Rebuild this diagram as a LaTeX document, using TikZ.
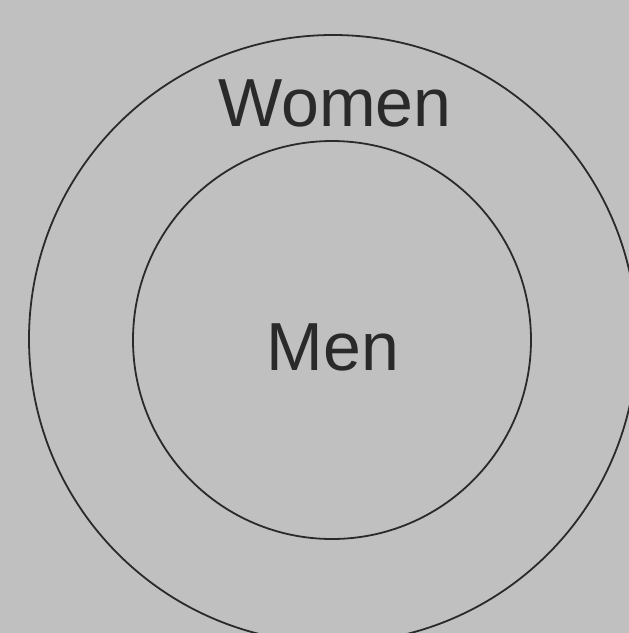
\documentclass[tikz,border=0pt]{standalone}
\usepackage{fontspec}
\setmainfont{Liberation Sans}
\definecolor{bg}{HTML}{C0C0C0}
\definecolor{ink}{HTML}{2A2A2A}
\begin{document}
\begin{tikzpicture}[x=1pt,y=-1pt,
  ring/.style={draw=ink,line width=1.8pt},
  lbl/.style={text=ink,font=\fontsize{68}{80}\selectfont,anchor=base,inner sep=0pt}]
\fill[bg] (0,0) rectangle (629,633);
\useasboundingbox (0,0) rectangle (629,633);
\begin{scope}
\clip (0,0) rectangle (629,633);
\node[ring,circle,minimum size=608pt,inner sep=0pt] (outer) at (333,339) {};
\end{scope}
\node[ring,circle,minimum size=398pt,inner sep=0pt] (inner) at (332,340) {};
\node[lbl] (women) at (335,126) {Women};
\node[lbl] (men) at (333,370) {Men};
\end{tikzpicture}
\end{document}
